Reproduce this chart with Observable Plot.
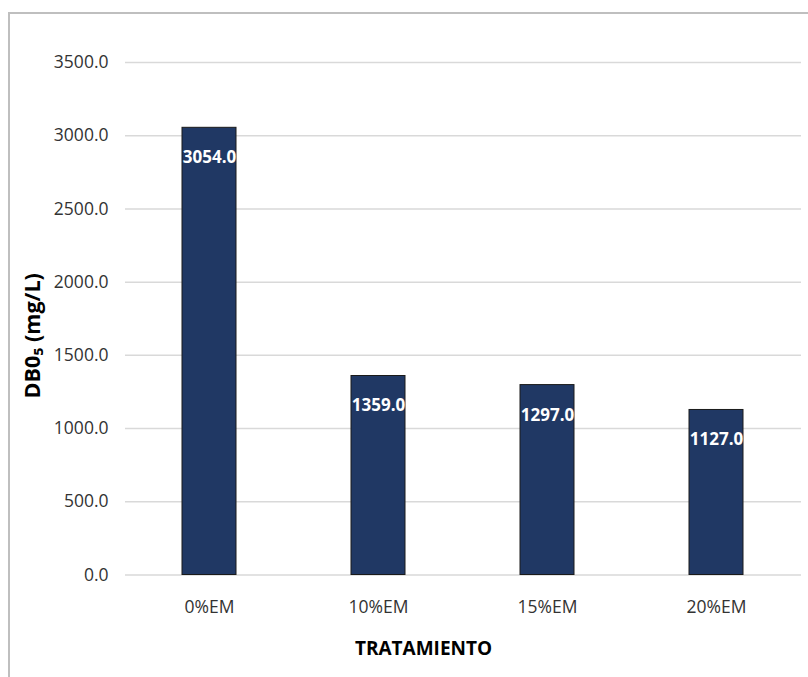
<!DOCTYPE html>
<html>
<head>
<meta charset="utf-8">
<script src="https://cdn.jsdelivr.net/npm/d3@7"></script>
<script src="https://cdn.jsdelivr.net/npm/@observablehq/plot@0.6"></script>
<style>
  html, body { margin: 0; padding: 0; background: #fff; overflow: hidden; }
  #wrap { position: relative; width: 808px; height: 677px; overflow: hidden; }
  #border { position: absolute; left: 8px; top: 12px; width: 900px; height: 900px;
            border: 2px solid #bfbfbf; pointer-events: none; box-sizing: border-box; }
  svg { font-family: "Open Sans", sans-serif; }
</style>
</head>
<body>
<div id="wrap"><div id="border"></div></div>
<script>
const categories = ["0%EM", "10%EM", "15%EM", "20%EM"];
const values = [3054.0, 1359.0, 1297.0, 1127.0];
const yTicks = [0, 500, 1000, 1500, 2000, 2500, 3000, 3500];
const yLabel = "DB0\u2085 (mg/L)";
const xLabel = "TRATAMIENTO";

const data = categories.map((c, i) => ({cat: c, val: values[i]}));

const chart = Plot.plot({
  width: 808,
  height: 677,
  marginLeft: 125,
  marginRight: 7,
  marginTop: 62,
  marginBottom: 102.5,
  style: {fontFamily: "Open Sans, sans-serif", background: "transparent"},
  x: {domain: categories, paddingInner: 0.68, paddingOuter: 0.34, label: null},
  y: {domain: [0, 3500], label: null},
  marks: [
    Plot.gridY(yTicks, {stroke: "#d9d9d9", strokeOpacity: 1, strokeWidth: 1.5}),
    Plot.axisY(yTicks, {tickSize: 0, tickPadding: 17, tickFormat: d => d.toFixed(1),
      fontSize: 17.5, fill: "#333333", label: null}),
    Plot.axisX({tickSize: 0, tickPadding: 26, fontSize: 17.5, fill: "#333333", label: null}),
    Plot.barY(data, {x: "cat", y: "val", fill: "#203864", stroke: "#1a1a1a", strokeWidth: 1}),
    Plot.text(data, {x: "cat", y: "val", text: d => d.val.toFixed(1), dy: 30,
      fill: "white", fontWeight: "bold", fontSize: 17, lineAnchor: "middle"}),
    Plot.text([xLabel], {frameAnchor: "bottom", textAnchor: "middle", dx: -40, dy: 74, lineAnchor: "middle",
      fontWeight: "bold", fontSize: 19, fill: "#000"}),
    Plot.text([yLabel], {frameAnchor: "left", textAnchor: "middle", dx: -92, dy: 17, rotate: -90,
      lineAnchor: "middle", fontWeight: "bold", fontSize: 21.5, fill: "#000"})
  ]
});
document.getElementById("wrap").prepend(chart);
</script>
</body>
</html>
